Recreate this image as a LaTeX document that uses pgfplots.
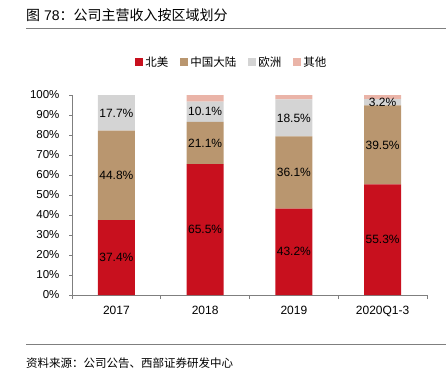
\documentclass[border=0pt]{standalone}
\usepackage{pgfplots}
\pgfplotsset{compat=1.18}
\usepackage{pgfplotstable}
\usepackage{fontspec}
\setmainfont{Liberation Sans}
\newfontfamily\cjk{Noto Sans CJK SC}
\definecolor{cred}{HTML}{C8101E}
\definecolor{ctan}{HTML}{B9966F}
\definecolor{cgray}{HTML}{D4D4D4}
\definecolor{cpink}{HTML}{EAB4A8}
\definecolor{caxis}{HTML}{7F7F7F}
\pgfplotstableread{
x na cn eu ot
0 37.4 44.8 17.7 0.1
1 65.5 21.1 10.1 3.3
2 43.2 36.1 18.5 2.2
3 55.3 39.5 3.2 2.0
}\data
\begin{document}
\begin{tikzpicture}
\useasboundingbox (0,0) rectangle (446pt,376pt);
\node[anchor=west,font=\fontsize{14}{16}\selectfont,inner sep=0pt] at (26pt,361pt) {{\cjk 图} 78{\cjk ：公司主营收入按区域划分}};
\draw[caxis,line width=1pt] (26pt,347.5pt) -- (446pt,347.5pt);
\draw[caxis,line width=1pt] (26pt,31.5pt) -- (446pt,31.5pt);
\node[anchor=west,font=\fontsize{11.5}{13}\selectfont\cjk,inner sep=0pt] at (26pt,13pt) {资料来源：公司公告、西部证券研发中心};
\begin{axis}[
  at={(72pt,81pt)}, anchor=south west,
  width=355pt, height=200pt, scale only axis,
  ybar stacked, bar width=37pt,
  xmin=-0.5, xmax=3.5, ymin=0, ymax=100,
  xtick={0,1,2,3},
  xticklabels={2017,2018,2019,2020Q1-3},
  minor xtick={-0.5,0.5,1.5,2.5,3.5},
  major x tick style={draw=none},
  minor tick length=4pt,
  ytick={0,10,...,100},
  yticklabel={\pgfmathprintnumber{\tick}\%},
  major tick length=3pt,
  tick align=outside,
  xtick pos=bottom, ytick pos=left,
  axis x line*=bottom, axis y line*=left,
  axis line style={caxis,line width=0.8pt},
  every tick/.style={caxis,line width=0.8pt},
  /pgf/number format/assume math mode=true,
  tick label style={font=\fontsize{11.5}{13}\selectfont},
  xticklabel style={font=\fontsize{12}{14}\selectfont, yshift=-5pt},
  yticklabel style={xshift=-6pt},
  point meta=rawy,
  nodes near coords={\pgfmathprintnumber[fixed,fixed zerofill,precision=1,assume math mode=true]{\pgfplotspointmeta}\%},
  every node near coord/.append style={font=\fontsize{12}{14}\selectfont, anchor=center},
  legend style={at={(0.45,1.165)}, anchor=center, draw=none, fill=none,
    legend columns=4, font=\fontsize{11.5}{13}\selectfont\cjk,
    /tikz/every even column/.append style={column sep=10pt}},
  legend image code/.code={\fill[#1] (0pt,-4pt) rectangle (8pt,4pt);},
  legend cell align=left,
]
\addplot[fill=cred,draw=none] table[x=x,y=na]{\data};
\addplot[fill=ctan,draw=none] table[x=x,y=cn]{\data};
\addplot[fill=cgray,draw=none] table[x=x,y=eu]{\data};
\addplot[fill=cpink,draw=none,nodes near coords={}] table[x=x,y=ot]{\data};
\legend{北美,中国大陆,欧洲,其他}
\end{axis}
\end{tikzpicture}
\end{document}
